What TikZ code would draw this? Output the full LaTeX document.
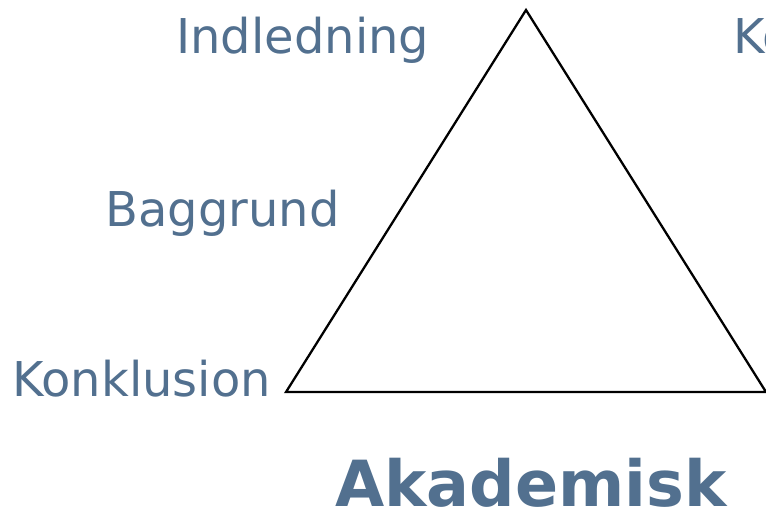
\documentclass[tikz,border=0pt]{standalone}
\usepackage{fontspec}
\setmainfont{DejaVu Sans}
\usepackage{tikz}
\usetikzlibrary{positioning}
\definecolor{slate}{RGB}{82,112,143}

\begin{document}
\begin{tikzpicture}[
    x=0.02cm, y=-0.02cm,
    lbl/.style={anchor=base west, inner sep=0pt, text=slate, font=\fontsize{27.3}{30}\selectfont},
    ttl/.style={anchor=base west, inner sep=0pt, text=slate, font=\fontsize{36.2}{40}\selectfont\bfseries},
    edge/.style={draw=black, line width=1.3pt, line join=miter}
]
    \useasboundingbox (0,0) rectangle (766,510);
    \clip (0,0) rectangle (766,510);
    % corners of the triangle
    \coordinate (top) at (526,10);
    \coordinate (left) at (286,392);
    \coordinate (right) at (766,392);
    \draw[edge] (top) -- (left) -- (right) -- cycle;
    % labels
    \node[lbl] (intro) at (176,53) {Indledning};
    \node[lbl] (back) at (105,226) {Baggrund};
    \node[lbl] (concl) at (12,396) {Konklusion};
    \node[lbl] (cut) at (733,53) {Ko};
    \node[ttl] (title) at (335,506) {Akademisk};
\end{tikzpicture}
\end{document}
